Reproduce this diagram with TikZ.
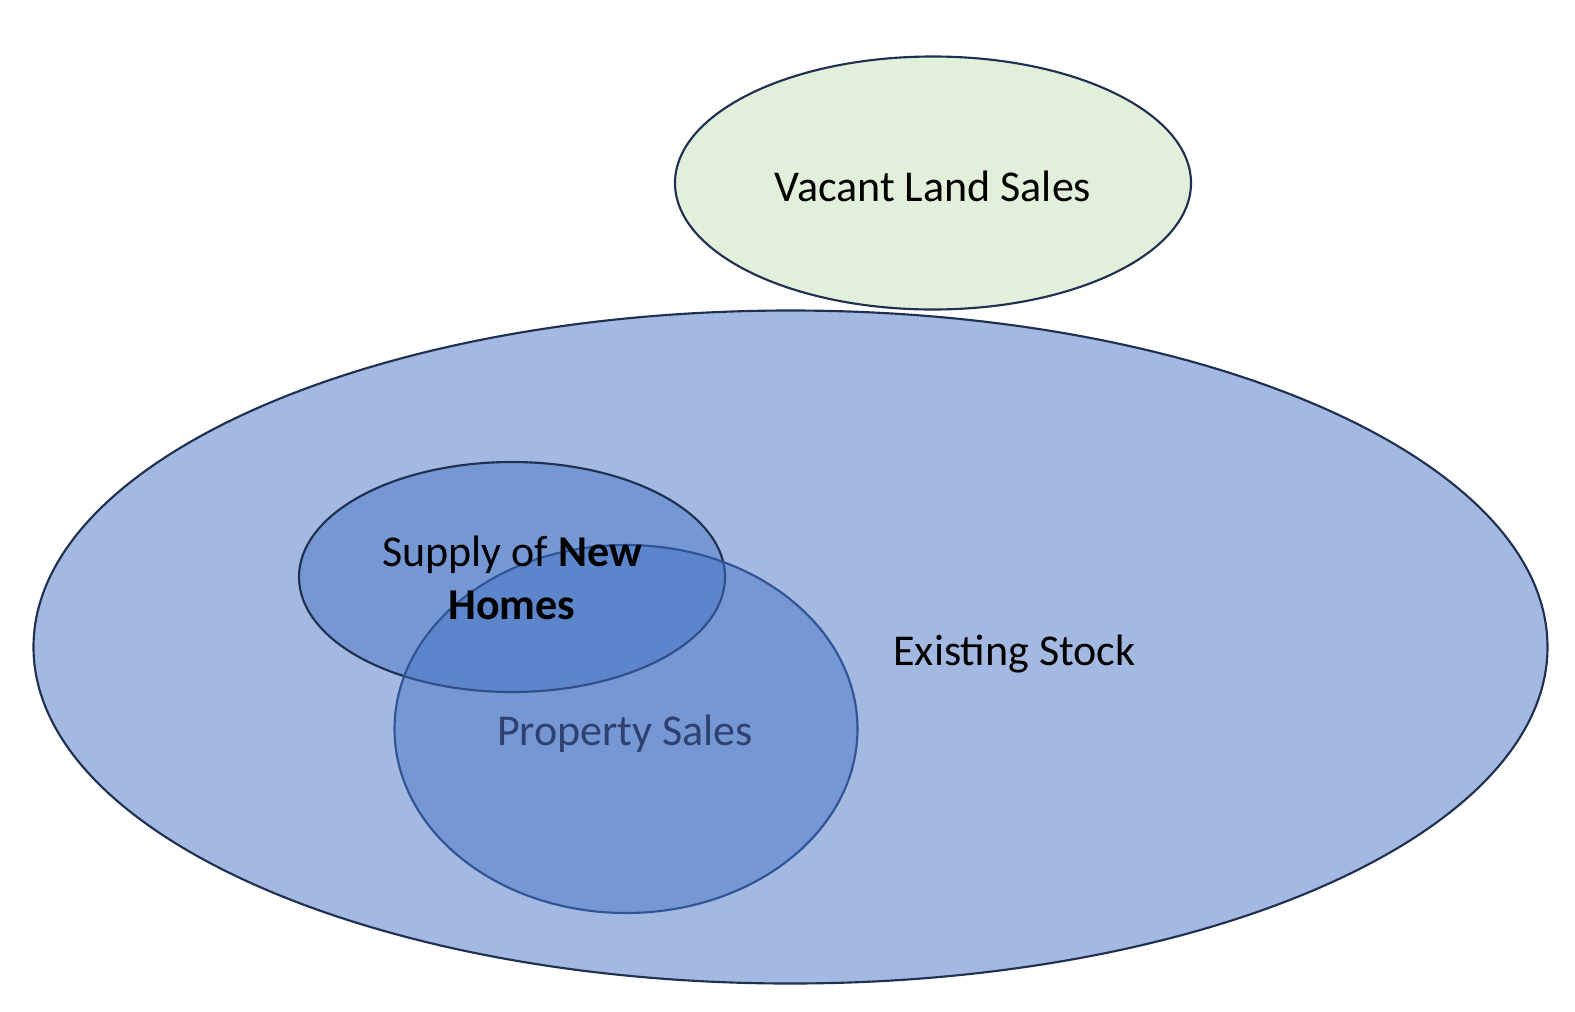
\documentclass[tikz,border=0pt]{standalone}
\usepackage{fontspec}
\setmainfont{Carlito}
\usetikzlibrary{shapes.geometric}
\definecolor{navy}{HTML}{1F3050}
\definecolor{midnavy}{HTML}{2F5597}
\definecolor{stockfill}{HTML}{A3B9E1}
\definecolor{landfill}{HTML}{E2EFDA}
\definecolor{setblue}{HTML}{4472C4}
\definecolor{salestext}{HTML}{2E4170}
\tikzset{
  blob/.style={ellipse, inner sep=0pt, line width=1.6pt},
  lbl/.style={font=\fontsize{33}{40}\selectfont, text=black, align=center, inner sep=0pt},
}
\begin{document}
\begin{tikzpicture}[x=0.75pt,y=-0.75pt]
\useasboundingbox[fill=white] (0,0) rectangle (1575,1011);
\node[blob, draw=navy, fill=stockfill, minimum width=1135.5pt, minimum height=504.75pt] (stock) at (790.5,647) {};
\node[blob, draw=navy, fill=landfill, minimum width=387pt, minimum height=189.75pt] (land) at (933,183) {};
\node[blob, draw=navy, fill=setblue, fill opacity=0.48, minimum width=319.5pt, minimum height=172.5pt] (supply) at (512,577) {};
\node[blob, draw=midnavy, fill=setblue, fill opacity=0.48, minimum width=347.25pt, minimum height=276pt] (sales) at (626,729) {};
\node[lbl] (landtxt) at (933,186) {Vacant Land Sales};
\node[lbl] (stocktxt) at (1014.5,654) {Existing Stock};
\node[lbl] (supplytxt) at (512,578) {Supply of \textbf{New}\\\textbf{Homes}};
\node[lbl, text=salestext] (salestxt) at (625,734) {Property Sales};
\end{tikzpicture}
\end{document}
